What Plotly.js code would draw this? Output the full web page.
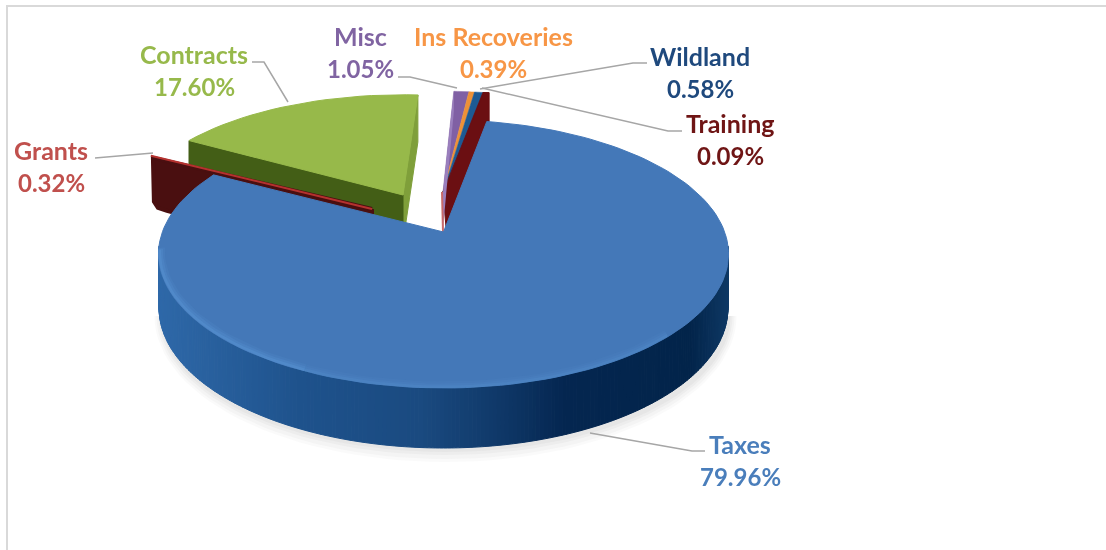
<!DOCTYPE html>
<html><head><meta charset="utf-8">
<script src="https://cdn.plot.ly/plotly-3.0.1.min.js"></script>
<style>html,body{margin:0;padding:0;background:#fff}#chart{width:1106px;height:550px}.main-svg{filter:blur(0.35px)}</style>
</head><body><div id="chart"></div>
<script>
// ---- data ----
const categories = ['Taxes','Grants','Contracts','Misc','Ins Recoveries','Wildland','Training'];
const shares = [79.96,0.32,17.60,1.05,0.39,0.58,0.09];

// ---- styling / geometry (pixel-space projection of the tilted pie) ----
const labelColors = ['#4a7ebb','#c0504d','#97b94b','#8064a2','#f79646','#1f497d','#6f1515'];
const topColors   = ['#4478b8','#b5322f','#97b94a','#8060a4','#ee9137','#1d5a94','#6b0f12'];
const labelPos = [[740,444,476],[51,150,182],[194,54,86],[360,36,68],[493,36,68],[700,56,88],[730,123,155]];
const pie = {cx:443.5, cy:254, rx:285, ry:134, t:0.164, start:10.3, ax:443.5, ay:232};
// per-slice explosion: apex position, scale of rim and a small turn
const slicePull = {
  Grants:{ax:372,ay:209,sx:0.97,sy:0.95,da:0},
  Contracts:{ax:403,ay:195,sx:0.955,sy:0.895,da:1},
  Misc:{ax:443,ay:192,sx:0.95,sy:0.90,da:0},
  'Ins Recoveries':{ax:443,ay:192,sx:0.95,sy:0.90,da:0},
  Wildland:{ax:443,ay:192,sx:0.95,sy:0.90,da:0},
  Training:{ax:443,ay:192,sx:0.95,sy:0.90,da:0}
};
const leaders = [
  [[590,433],[692,451],[705,451]],
  [[95,158],[153,153]],
  [[252,62],[264,62],[288,102]],
  [[398,77],[410,77],[457,88]],
  [[647,63],[633,63],[480,89]],
  [[682,131],[668,131],[482,88]]
];
const sideStops = [[159,[46,104,168]],[300,[30,82,140]],[420,[26,74,128]],[500,[15,56,104]],[565,[4,38,80]],[690,[2,36,74]],[728,[14,56,100]]];

function depth(y){ return 47 + (y-93)*13/295; }
function project(deg){
  const a = deg*Math.PI/180, X=Math.sin(a), Y=Math.cos(a), t=pie.t;
  const w = 1+t*Y;
  return [pie.cx + pie.rx*X*Math.sqrt(1-t*t)/w, pie.cy - pie.ry*(Y+t)/w];
}
function rim(a0,a1,step,p){
  const out=[], n=Math.max(1,Math.ceil((a1-a0)/step)), da=p&&p.da?p.da:0;
  for(let i=0;i<=n;i++){
    const q=project(a0+da+(a1-a0)*i/n);
    out.push(p?[p.ax+p.sx*(q[0]-pie.ax), p.ay+p.sy*(q[1]-pie.ay)]:q);
  }
  return out;
}
function poly(points,color,opts){
  opts=opts||{};
  const xs=points.map(p=>p[0]), ys=points.map(p=>p[1]);
  xs.push(xs[0]); ys.push(ys[0]);
  return {type:'scatter',mode:'lines',x:xs,y:ys,fill:'toself',fillcolor:color,
    opacity:opts.opacity===undefined?1:opts.opacity,
    line:{color:color,width:opts.lw===undefined?1:opts.lw,shape:'linear'},hoverinfo:'skip',showlegend:false};
}
function stroke(points,color,width,opacity){
  return {type:'scatter',mode:'lines',x:points.map(p=>p[0]),y:points.map(p=>p[1]),
    line:{color:color,width:width},opacity:opacity===undefined?1:opacity,hoverinfo:'skip',showlegend:false};
}
function sideColor(x){
  for(let i=1;i<sideStops.length;i++){
    if(x<=sideStops[i][0]){
      const [x0,c0]=sideStops[i-1],[x1,c1]=sideStops[i],f=Math.max(0,(x-x0)/(x1-x0));
      return 'rgb('+c0.map((c,k)=>Math.round(c+(c1[k]-c)*f)).join(',')+')';
    }
  }
  const c=sideStops[sideStops.length-1][1];
  return 'rgb('+c.join(',')+')';
}

// angular extent of each slice, clockwise from the start angle
const total = shares.reduce((a,b)=>a+b,0);
const ranges = {};
let cur = pie.start;
categories.forEach((c,i)=>{ const w=shares[i]/total*360; ranges[c]=[cur,cur+w]; cur+=w; });

const traces=[];
// soft shadow, only below the front of the pie
[[6,12,0.04],[4,9,0.05],[2,5,0.06],[0,2,0.07]].forEach(s=>{
  const e=[];
  for(let a=90;a<=270;a+=3){const r=a*Math.PI/180;
    e.push([pie.cx+2+(pie.rx+s[0])*Math.sin(r), pie.cy+62-(pie.ry+s[1])*Math.cos(r)]);}
  traces.push(poly(e,'#8c8c8c',{opacity:s[2],lw:0}));
});

// Contracts
(function(){
  const p=slicePull.Contracts,r=ranges.Contracts,arc=rim(r[0],r[1],3,p);
  const E0=arc[0],E1=arc[arc.length-1],A=[p.ax,p.ay];
  traces.push(poly([E1,A,[A[0],A[1]+47],[E1[0],E1[1]+47]],'#7f9f3a'));
  traces.push(poly([E0,A,[A[0],A[1]+50],[E0[0],E0[1]+50]],'#435e16'));
  traces.push(poly([A].concat(arc),topColors[2]));
})();

// small slices at the back
(function(){
  const p=slicePull.Training,r=ranges.Training,arc=rim(r[0],r[1],1,p);
  const E=arc[arc.length-1],A=[p.ax,p.ay];
  traces.push(poly([A,arc[0],[E[0]+5,E[1]],[E[0]+5,E[1]+47],[A[0]+4,A[1]+47]],topColors[6]));
  ['Misc','Ins Recoveries','Wildland','Training'].forEach(c=>{
    const q=slicePull[c],rr=ranges[c],ar=rim(rr[0],rr[1],1,q);
    traces.push(poly([[q.ax,q.ay]].concat(ar),topColors[categories.indexOf(c)],{lw:0.5}));
  });
  const pm=slicePull.Misc,rm=ranges.Misc,am=rim(rm[0],rm[1],1,pm);
  traces.push(poly([[pm.ax,pm.ay],am[0],[am[0][0],am[0][1]+20],[pm.ax-1,pm.ay+47]],'#9a7fbd',{lw:0}));
  traces.push(poly([[pm.ax-2,pm.ay],[pm.ax,pm.ay],[pm.ax+1,pm.ay+40],[pm.ax-1,pm.ay+40]],'#c86a6a',{lw:0}));
})();

// Grants
(function(){
  const p=slicePull.Grants,r=ranges.Grants,arc=rim(r[0],r[1],1,p);
  const E=arc[0],A=[p.ax,p.ay];
  traces.push(poly([A,[E[0]+4,E[1]+3],[E[0]+5,E[1]+47],[E[0]+9,E[1]+53],[E[0]+18,E[1]+56],[A[0],A[1]+56]],'#4a0f10',{lw:4}));
  traces.push(stroke([[E[0]+2,E[1]+1],A],'#b5322f',2));
})();

// Taxes: side wall, drawn as short colored strips, then the top face
(function(){
  const n=240,a0=96,a1=264;
  for(let i=0;i<n;i++){
    const b0=a0+(a1-a0)*i/n,b1=a0+(a1-a0)*(i+1)/n,
      q0=project(b0),q1=project(b1),
      bot=q=>[pie.cx+(q[0]-pie.cx)*0.998,q[1]+depth(q[1])];
    traces.push(poly([q0,q1,bot(q1),bot(q0)],sideColor((q0[0]+q1[0])/2)));
  }
  const r=ranges.Taxes,arc=rim(r[0],r[1],2);
  traces.push(poly([[pie.ax,pie.ay]].concat(arc),topColors[0]));
  // soft lighter bevel round the front edge, built from stacked translucent strokes
  [[0.990,7,-3,0.10],[0.993,5,-2,0.16],[0.996,3,-1,0.22]].forEach(b=>{
    [[135,205,0.6],[205,262,1]].forEach(f=>{
      traces.push(stroke(rim(f[0],f[1],2).map(q=>[pie.cx+(q[0]-pie.cx)*b[0],q[1]+b[2]]),'#62a4e4',b[1],b[3]*f[2]));
    });
  });
})();

// leader lines
leaders.forEach(l=>traces.push(stroke(l,'#a6a6a6',1.5)));

const annotations=[];
categories.forEach((c,i)=>{
  const [x,y1,y2]=labelPos[i];
  [[c,y1,25],[shares[i].toFixed(2)+'%',y2,24]].forEach(t=>annotations.push({
    text:'<b>'+t[0]+'</b>',x:x,y:t[1],xref:'x',yref:'y',showarrow:false,
    xanchor:'center',yanchor:'middle',font:{family:'Lato, Carlito, sans-serif',size:t[2],color:labelColors[i]}
  }));
});

const layout={
  width:1106,height:550,margin:{l:0,r:0,t:0,b:0},
  paper_bgcolor:'#fff',plot_bgcolor:'#fff',showlegend:false,
  xaxis:{range:[0,1106],visible:false,fixedrange:true},
  yaxis:{range:[550,0],visible:false,fixedrange:true},
  annotations:annotations,
  shapes:[
    {type:'line',xref:'x',yref:'y',x0:6,x1:1106,y0:6,y1:6,line:{color:'#d9d9d9',width:2},layer:'below'},
    {type:'line',xref:'x',yref:'y',x0:7,x1:7,y0:5,y1:550,line:{color:'#d9d9d9',width:2},layer:'below'}
  ]
};
Plotly.newPlot('chart',traces,layout,{displayModeBar:false,staticPlot:true});
</script></body></html>
